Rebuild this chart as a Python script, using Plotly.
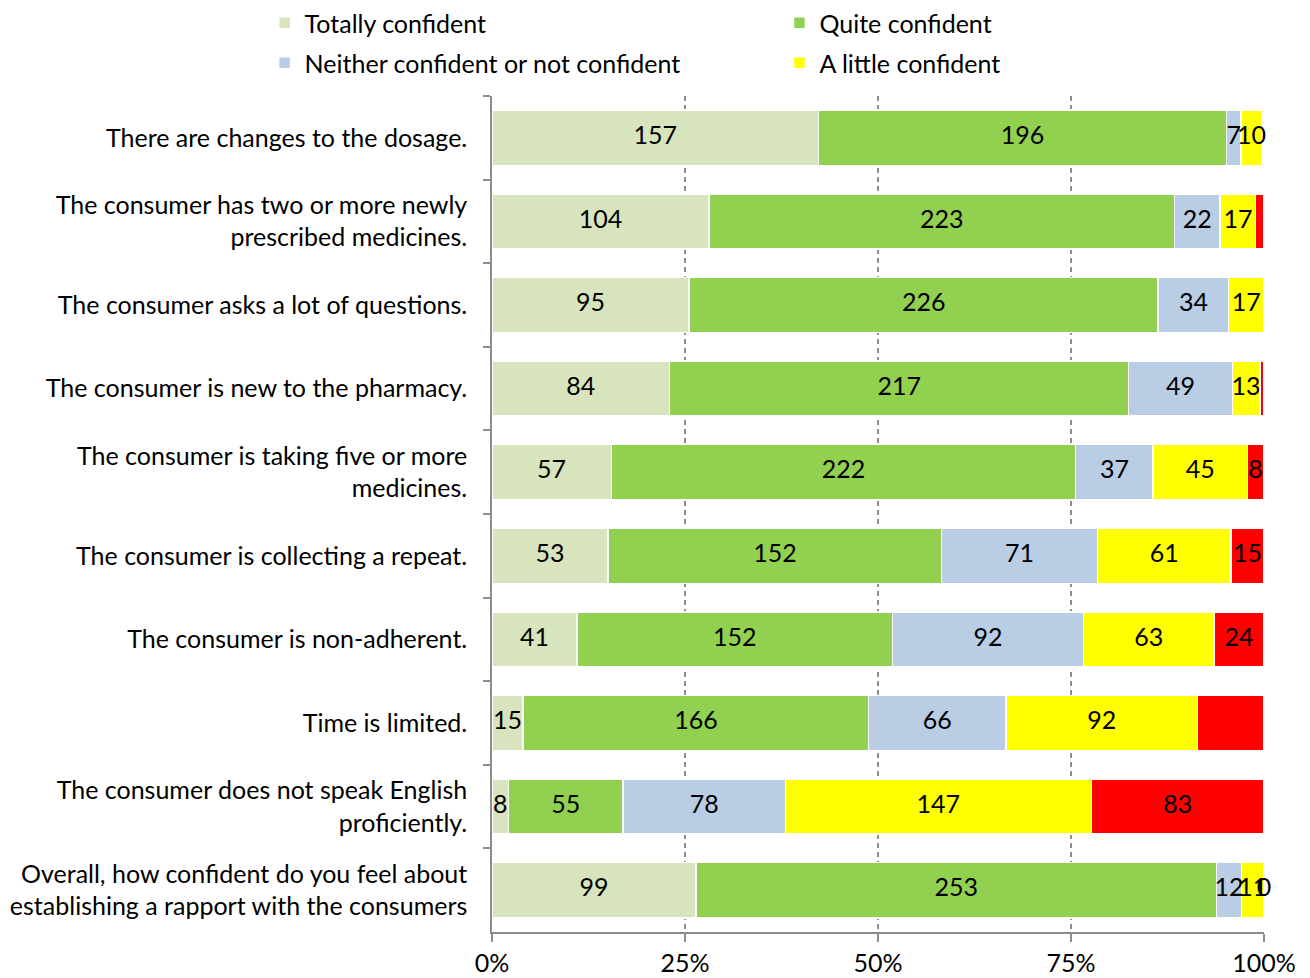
import plotly.graph_objects as go

categories = [
    "There are changes to the dosage.",
    "The consumer has two or more newly<br>prescribed medicines.",
    "The consumer asks a lot of questions.",
    "The consumer is new to the pharmacy.",
    "The consumer is taking five or more<br>medicines.",
    "The consumer is collecting a repeat.",
    "The consumer is non-adherent.",
    "Time is limited.",
    "The consumer does not speak English<br>proficiently.",
    "Overall, how confident do you feel about<br>establishing a rapport with the consumers",
]

totally = [157, 104, 95, 84, 57, 53, 41, 15, 8, 99]
quite = [196, 223, 226, 217, 222, 152, 152, 166, 55, 253]
neither = [7, 22, 34, 49, 37, 71, 92, 66, 78, 12]
little = [10, 17, 17, 13, 45, 61, 63, 92, 147, 11]
not_conf = [1, 4, 0, 2, 8, 15, 24, 32, 83, 0]
not_conf_labels = ["", "", "", "", "8", "15", "24", "", "83", "0"]

tick_vals = [0, 25, 50, 75, 100]
tick_text = ["0%", "25%", "50%", "75%", "100%"]

FONT = "Lato, 'Open Sans', sans-serif"
FS = 25

series = [
    ("Totally confident", totally, "#D7E4BD", [str(v) for v in totally], "legend", 0.202, 1.0),
    ("Quite confident", quite, "#92D050", [str(v) for v in quite], "legend2", 0.595, 1.0),
    ("Neither confident or not confident", neither, "#B9CDE5", [str(v) for v in neither], "legend3", 0.202, 0.959),
    ("A little confident", little, "#FFFF00", [str(v) for v in little], "legend4", 0.595, 0.959),
    ("Not confident", not_conf, "#FF0000", not_conf_labels, None, None, None),
]

totals = [sum(s[1][i] for s in series) for i in range(len(categories))]

fig = go.Figure()
legend_layouts = {}
cum = [0.0] * len(categories)
label_x, label_y, label_t = [], [], []
for name, vals, color, labels, leg, lx, ly in series:
    fig.add_trace(go.Bar(
        y=categories, x=vals, name=name, orientation="h",
        marker=dict(color=color, line=dict(color="white", width=1.5)),
        textposition="none",
        showlegend=leg is not None,
        legend=leg if leg else "legend",
        hoverinfo="skip",
    ))
    if leg:
        legend_layouts[leg] = dict(
            xref="container", yref="container", x=lx, y=ly,
            xanchor="left", yanchor="top", orientation="h",
            font=dict(family=FONT, size=FS), bgcolor="rgba(0,0,0,0)")
    for i, v in enumerate(vals):
        mid = (cum[i] + v / 2) / totals[i] * 100
        cum[i] += v
        if labels[i]:
            label_x.append(mid)
            label_y.append(categories[i])
            label_t.append(labels[i])

fig.add_trace(go.Scatter(
    x=label_x, y=label_y, text=label_t, mode="text",
    textfont=dict(family=FONT, size=FS, color="black"),
    textposition="middle center", showlegend=False, cliponaxis=False,
    hoverinfo="skip",
))

fig.update_layout(
    barmode="stack", barnorm="percent", bargap=0.34,
    width=1310, height=978,
    margin=dict(l=492, r=46, t=96, b=46, autoexpand=False),
    plot_bgcolor="white", paper_bgcolor="white",
    font=dict(family=FONT, size=FS, color="black"),
    xaxis=dict(range=[0, 100], tickvals=tick_vals, ticktext=tick_text,
               showgrid=True, gridcolor="#8c8c8c", griddash="5px,4px", gridwidth=1.5,
               showline=True, linecolor="#8c8c8c", linewidth=1.5,
               ticks="outside", ticklen=8, tickcolor="#8c8c8c", tickwidth=1.5,
               zeroline=False, tickfont=dict(family=FONT, size=FS)),
    yaxis=dict(autorange="reversed", showline=True, linecolor="#8c8c8c", linewidth=1.5,
               ticks="outside", tickson="boundaries", ticklen=7, tickcolor="#8c8c8c",
               tickwidth=1.5, ticklabelstandoff=18, showgrid=False,
               tickfont=dict(family=FONT, size=FS)),
    **legend_layouts,
)

fig.write_html("out.html")
